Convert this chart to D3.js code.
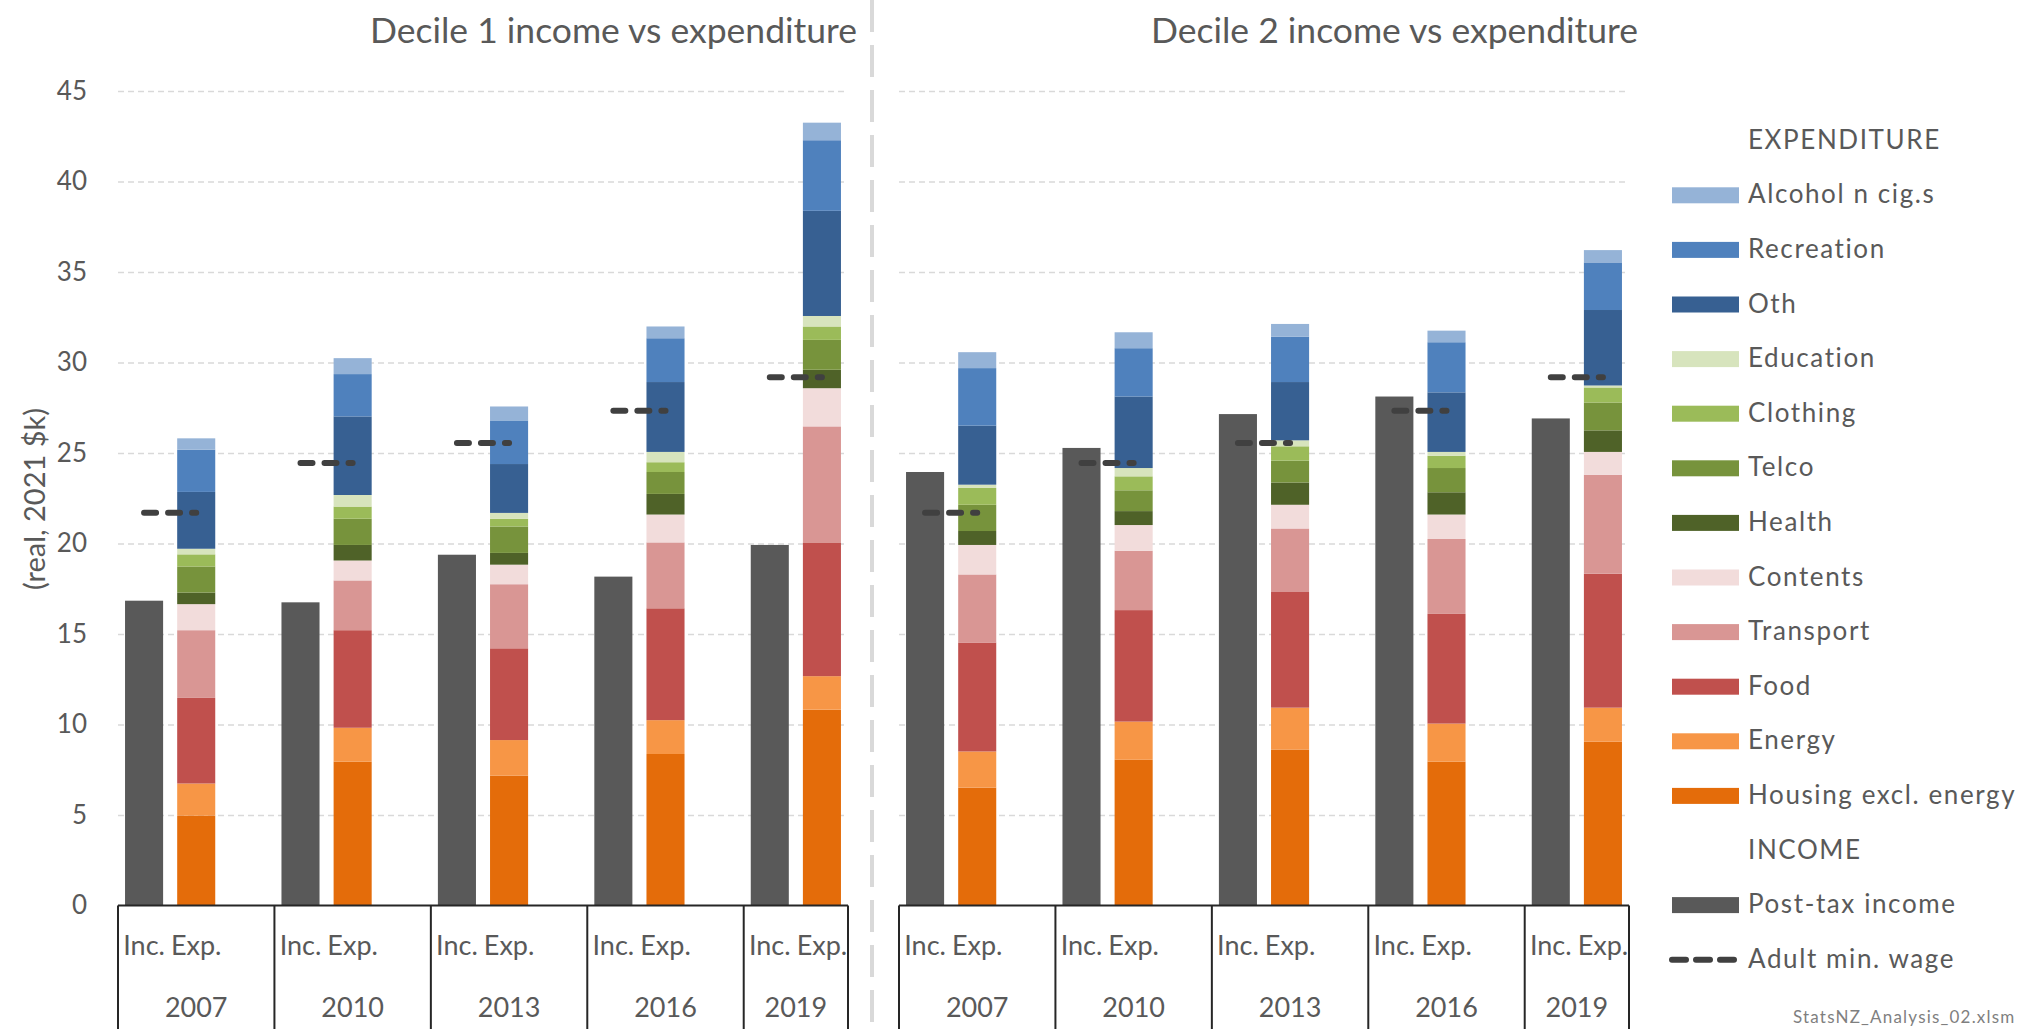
<!DOCTYPE html>
<html>
<head>
<meta charset="utf-8">
<script src="https://cdn.jsdelivr.net/npm/d3@7"></script>
<style>
  html, body { margin: 0; padding: 0; background: #fff; }
  svg { display: block; font-family: Lato, "Open Sans", sans-serif; }
</style>
</head>
<body>
<svg id="chart" width="2021" height="1029"></svg>
<script>
// data (real, 2021 $k)
const years = ["2007", "2010", "2013", "2016", "2019"];
const yTicks = [0, 5, 10, 15, 20, 25, 30, 35, 40, 45];

// expenditure categories, bottom of the stack first
const expCats = ["Housing excl. energy", "Energy", "Food", "Transport", "Contents", "Health",
                 "Telco", "Clothing", "Education", "Oth", "Recreation", "Alcohol n cig.s"];
const expColors = ["#e46c0a", "#f79646", "#c0504d", "#d99694", "#f2dcdb", "#4f6228",
                   "#77933c", "#9bbb59", "#d7e4bd", "#376092", "#4f81bd", "#95b3d7"];

const incomeColor = "#595959";
const wageColor = "#404040";

const minWage = [21.7, 24.45, 25.55, 27.33, 29.19];

// decile 1
const d1Income = [16.84, 16.75, 19.38, 18.17, 19.92];
const d1Exp2007 = [4.97, 1.77, 4.73, 3.74, 1.44, 0.64, 1.44, 0.67, 0.31, 3.14, 2.33, 0.63];
const d1Exp2010 = [7.95, 1.87, 5.39, 2.75, 1.10, 0.86, 1.45, 0.67, 0.64, 4.34, 2.34, 0.88];
const d1Exp2013 = [7.18, 1.96, 5.07, 3.54, 1.08, 0.65, 1.46, 0.43, 0.32, 2.70, 2.41, 0.77];
const d1Exp2016 = [8.37, 1.87, 6.18, 3.64, 1.54, 1.14, 1.21, 0.54, 0.57, 3.86, 2.42, 0.65];
const d1Exp2019 = [10.82, 1.85, 7.39, 6.41, 2.11, 1.02, 1.65, 0.74, 0.58, 5.81, 3.90, 0.97];

// decile 2
const d2Income = [23.95, 25.28, 27.15, 28.12, 26.91];
const d2Exp2007 = [6.51, 2.00, 6.02, 3.76, 1.63, 0.77, 1.45, 0.93, 0.18, 3.26, 3.18, 0.88];
const d2Exp2010 = [8.05, 2.11, 6.16, 3.28, 1.42, 0.77, 1.15, 0.77, 0.46, 3.95, 2.67, 0.88];
const d2Exp2013 = [8.62, 2.31, 6.39, 3.51, 1.31, 1.23, 1.21, 0.79, 0.33, 3.22, 2.51, 0.70];
const d2Exp2016 = [7.95, 2.10, 6.06, 4.14, 1.35, 1.23, 1.34, 0.68, 0.21, 3.29, 2.77, 0.64];
const d2Exp2019 = [9.05, 1.88, 7.40, 5.47, 1.26, 1.19, 1.54, 0.83, 0.11, 4.17, 2.63, 0.68];

const panels = [
    { title: "Decile 1 income vs expenditure", x0: 118, x1: 848, labels: true,
      income: d1Income, exp: [d1Exp2007, d1Exp2010, d1Exp2013, d1Exp2016, d1Exp2019] },
    { title: "Decile 2 income vs expenditure", x0: 899, x1: 1629, labels: false,
      income: d2Income, exp: [d2Exp2007, d2Exp2010, d2Exp2013, d2Exp2016, d2Exp2019] }
];

const W = 2021, H = 1029;
const textColor = "#595959";
const svg = d3.select("#chart");

const y = d3.scaleLinear().domain([0, 45]).range([905.5, 91]);

// category slots: Inc, Exp, blank (no blank after the last year)
const slots = [];
years.forEach((yr, i) => {
    slots.push(yr + "|Inc.");
    slots.push(yr + "|Exp.");
    if (i < years.length - 1) slots.push(yr + "|");
});

// dashed divider between the two charts
svg.append("line")
    .attr("x1", 872).attr("x2", 872)
    .attr("y1", 0).attr("y2", H)
    .attr("stroke", "#d9d9d9")
    .attr("stroke-width", 4)
    .attr("stroke-dasharray", "32,13");

panels.forEach(p => {
    const x = d3.scaleBand()
        .domain(slots)
        .range([p.x0, p.x1])
        .paddingInner(0.27)
        .paddingOuter(0.135);

    const g = svg.append("g");

    // gridlines + y tick labels
    const yAxis = d3.axisLeft(y)
        .tickValues(yTicks)
        .tickSizeInner(-(p.x1 - p.x0))
        .tickSizeOuter(0)
        .tickPadding(p.x0 - 87)
        .tickFormat(p.labels ? d3.format("d") : "");

    const ga = g.append("g")
        .attr("transform", `translate(${p.x0},0)`)
        .call(yAxis);
    ga.select(".domain").remove();
    ga.selectAll(".tick line")
        .attr("stroke", "#d9d9d9")
        .attr("stroke-width", 1.5)
        .attr("stroke-dasharray", "6,4")
        .filter(d => d === 0).remove();
    ga.selectAll(".tick text")
        .attr("fill", textColor)
        .style("font-size", "26px")
        .style("font-family", "Lato, sans-serif");

    // title
    g.append("text")
        .attr("x", p.x1 + 9).attr("y", 43)
        .attr("text-anchor", "end")
        .attr("fill", textColor)
        .style("font-size", "35.5px")
        .text(p.title);

    // income bars
    g.append("g").selectAll("rect")
        .data(years.map((yr, i) => ({ yr: yr, v: p.income[i] })))
        .join("rect")
        .attr("x", d => x(d.yr + "|Inc."))
        .attr("width", x.bandwidth())
        .attr("y", d => y(d.v))
        .attr("height", d => y(0) - y(d.v))
        .attr("fill", incomeColor);

    // expenditure stacks
    const rows = years.map((yr, i) => {
        const r = { yr: yr };
        expCats.forEach((c, k) => r[c] = p.exp[i][k]);
        return r;
    });
    const series = d3.stack().keys(expCats)(rows);

    g.append("g").selectAll("g")
        .data(series)
        .join("g")
        .attr("fill", (d, k) => expColors[k])
        .selectAll("rect")
        .data(d => d)
        .join("rect")
        .attr("x", d => x(d.data.yr + "|Exp."))
        .attr("width", x.bandwidth())
        .attr("y", d => y(d[1]))
        .attr("height", d => y(d[0]) - y(d[1]));

    // adult min wage, one short dashed line per year from Inc. to Exp.
    const line = d3.line()
        .x(d => x(d.slot) + x.bandwidth() / 2)
        .y(d => y(d.v));
    years.forEach((yr, i) => {
        g.append("path")
            .datum([{ slot: yr + "|Inc.", v: minWage[i] }, { slot: yr + "|Exp.", v: minWage[i] }])
            .attr("d", line)
            .attr("fill", "none")
            .attr("stroke", wageColor)
            .attr("stroke-width", 6)
            .attr("stroke-linecap", "round")
            .attr("stroke-dasharray", "12,12");
    });

    // multi-level category axis
    const axisY = y(0);
    g.append("line")
        .attr("x1", p.x0).attr("x2", p.x1)
        .attr("y1", axisY).attr("y2", axisY)
        .attr("stroke", "#262626").attr("stroke-width", 2);

    const step = x.step();
    const groupEdges = [p.x0];
    years.forEach((yr, i) => {
        const end = x(yr + "|Exp.") - x.paddingOuter() * step + step * (i < years.length - 1 ? 2 : 1);
        groupEdges.push(i < years.length - 1 ? end : p.x1);
    });
    g.append("g").selectAll("line")
        .data(groupEdges)
        .join("line")
        .attr("x1", d => d).attr("x2", d => d)
        .attr("y1", axisY).attr("y2", H)
        .attr("stroke", "#262626").attr("stroke-width", 2);

    g.append("g").selectAll("text")
        .data(slots.filter(s => s.split("|")[1] !== ""))
        .join("text")
        .attr("x", d => x(d) + x.bandwidth() / 2)
        .attr("y", 955)
        .attr("text-anchor", "middle")
        .attr("fill", textColor)
        .style("font-size", "27px")
        .text(d => d.split("|")[1]);

    g.append("g").selectAll("text")
        .data(years)
        .join("text")
        .attr("x", (d, i) => (groupEdges[i] + groupEdges[i + 1]) / 2)
        .attr("y", 1017)
        .attr("text-anchor", "middle")
        .attr("fill", textColor)
        .style("font-size", "27px")
        .text(d => d);
});

// y axis title
svg.append("text")
    .attr("transform", "translate(45,499) rotate(-90)")
    .attr("text-anchor", "middle")
    .attr("fill", textColor)
    .style("font-size", "29px")
    .text("(real, 2021 $k)");

// legend
const legendItems = [{ head: "EXPENDITURE" }]
    .concat(expCats.map((c, k) => ({ name: c, color: expColors[k] })).reverse())
    .concat([{ head: "INCOME" },
             { name: "Post-tax income", color: incomeColor },
             { name: "Adult min. wage", dash: true }]);

const legendY = d3.scaleLinear().domain([0, 1]).range([140.7, 195.3]);

const leg = svg.append("g")
    .selectAll("g")
    .data(legendItems)
    .join("g")
    .attr("transform", (d, i) => `translate(0,${legendY(i)})`);

leg.filter(d => d.color)
    .append("rect")
    .attr("x", 1672).attr("y", -8)
    .attr("width", 67).attr("height", 16)
    .attr("fill", d => d.color);

leg.filter(d => d.dash)
    .append("line")
    .attr("x1", 1672).attr("x2", 1735)
    .attr("y1", 0).attr("y2", 0)
    .attr("stroke", wageColor)
    .attr("stroke-width", 6)
    .attr("stroke-linecap", "round")
    .attr("stroke-dasharray", "14,10");

leg.append("text")
    .attr("x", 1748).attr("y", 8)
    .attr("fill", textColor)
    .style("font-size", "26px")
    .style("letter-spacing", "1.6px")
    .text(d => d.head || d.name);

// source note
svg.append("text")
    .attr("x", 1793).attr("y", 1023)
    .attr("fill", "#7f7f7f")
    .style("font-size", "17px")
    .style("letter-spacing", "1.2px")
    .text("StatsNZ_Analysis_02.xlsm");
</script>
</body>
</html>
